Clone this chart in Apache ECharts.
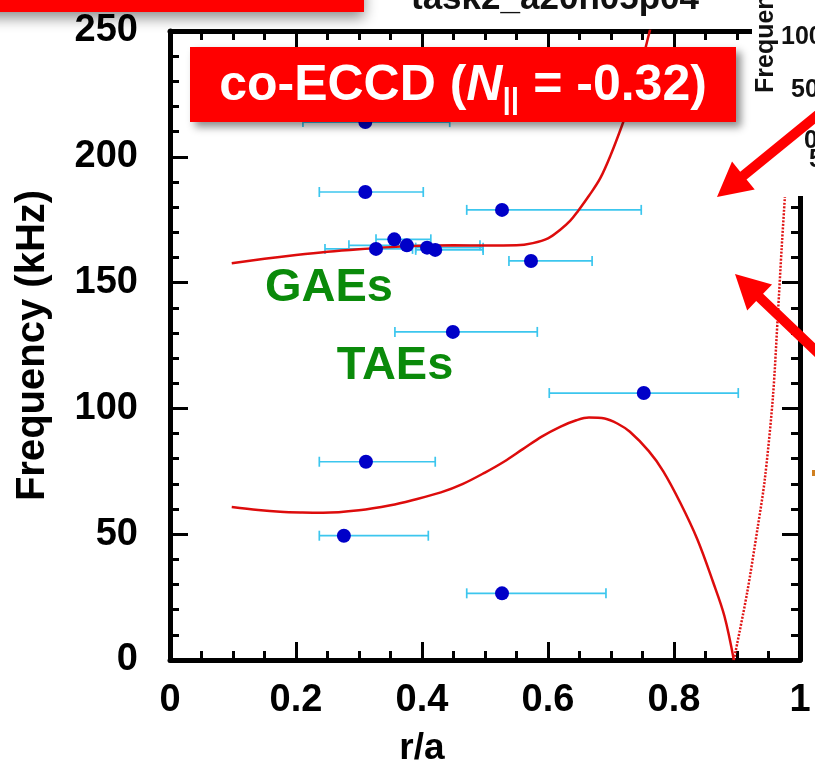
<!DOCTYPE html>
<html><head><meta charset="utf-8">
<script src="https://cdn.jsdelivr.net/npm/echarts@6/dist/echarts.min.js"></script>
<style>html,body{margin:0;padding:0;background:#fff;overflow:hidden}#c{width:815px;height:765px}</style>
</head><body><div id="c"></div>
<script>
// ---- tick labels ----
const xTickLabels = ['0', '0.2', '0.4', '0.6', '0.8', '1'];
const yTickLabels = ['0', '50', '100', '150', '200', '250'];

// ---- upper continuum curve (r/a, kHz) ----
const upperR = [0.098, 0.15, 0.2, 0.25, 0.3, 0.35, 0.4, 0.45, 0.5, 0.55, 0.576, 0.6, 0.619, 0.635, 0.648, 0.665, 0.683, 0.7, 0.719, 0.73, 0.741, 0.75, 0.759, 0.765];
const upperF = [157.7, 159.5, 161.0, 162.3, 163.3, 164.1, 164.6, 164.8, 164.7, 164.8, 165.7, 167.6, 170.9, 174.5, 178.6, 184.5, 191.5, 201.0, 213.5, 221.5, 230.5, 238.5, 247.5, 253.5];

// ---- lower continuum curve, left branch (solid) ----
const lowR = [0.098, 0.14, 0.175, 0.21, 0.243, 0.3, 0.35, 0.386, 0.43, 0.465, 0.5, 0.53, 0.56, 0.59, 0.62, 0.645, 0.665, 0.69, 0.71, 0.73, 0.76, 0.783, 0.81, 0.837, 0.862, 0.88, 0.895];
const lowF = [60.8, 59.6, 58.9, 58.6, 58.5, 59.5, 61.5, 63.6, 66.6, 70.0, 74.5, 78.8, 83.8, 88.8, 92.8, 95.3, 96.4, 96.0, 94.0, 90.7, 83.0, 75.0, 62.5, 48.0, 31.0, 17.5, 0];

// ---- lower continuum curve, right branch (dotted) ----
const rightR = [0.895, 0.916, 0.933, 0.944, 0.957, 0.965, 0.971, 0.976];
const rightF = [0, 26.6, 53, 71.5, 104.5, 137.9, 164.2, 184];

// ---- measured modes: centre r/a, frequency, error bar low / high ----
const ptR  = [0.310, 0.310, 0.527, 0.356, 0.376, 0.327, 0.408, 0.421, 0.573, 0.449, 0.752, 0.311, 0.276, 0.527];
const ptF  = [213.8, 186.0, 178.9, 167.2, 164.8, 163.4, 163.9, 163.0, 158.6, 130.4, 106.1, 78.8, 49.4, 26.5];
const ptLo = [0.211, 0.237, 0.471, 0.327, 0.284, 0.246, 0.390, 0.390, 0.538, 0.357, 0.602, 0.237, 0.237, 0.471];
const ptHi = [0.444, 0.402, 0.748, 0.414, 0.492, 0.385, 0.497, 0.497, 0.670, 0.583, 0.902, 0.421, 0.410, 0.692];

const zip = (a, b) => a.map((v, i) => [v, b[i]]);
const FONT = 'Liberation Sans';

const chart = echarts.init(document.getElementById('c'), null, {renderer: 'canvas'});

function axisCommon(showLabel) {
  return {
    axisLine: {show: true, onZero: false, lineStyle: {color: '#000', width: 5}},
    axisTick: {show: true, inside: true, length: 18, lineStyle: {color: '#000', width: 3}},
    minorTick: {show: true, length: 9, lineStyle: {color: '#000', width: 3}},
    splitLine: {show: false},
    minorSplitLine: {show: false},
    axisLabel: {show: showLabel, color: '#000', fontFamily: FONT, fontWeight: 'bold', fontSize: 38}
  };
}

const xBottom = Object.assign(axisCommon(true), {
  type: 'value', min: 0, max: 1, interval: 0.2, position: 'bottom',
  name: 'r/a', nameLocation: 'middle', nameGap: 70,
  nameTextStyle: {color: '#000', fontFamily: FONT, fontWeight: 'bold', fontSize: 37, padding: [0, 126, 0, 0]}
});
xBottom.minorTick.splitNumber = 4;
xBottom.axisLabel.margin = 22;
xBottom.axisLabel.formatter = v => xTickLabels[Math.round(v / 0.2)];

const xTop = Object.assign(axisCommon(false), {type: 'value', min: 0, max: 1, interval: 0.2, position: 'top'});
xTop.minorTick.splitNumber = 4;

const yLeft = Object.assign(axisCommon(true), {
  type: 'value', min: 0, max: 250, interval: 50, position: 'left',
  name: 'Frequency (kHz)', nameLocation: 'middle', nameGap: 117, nameRotate: 90,
  nameTextStyle: {color: '#000', fontFamily: FONT, fontWeight: 'bold', fontSize: 40}
});
yLeft.minorTick.splitNumber = 5;
yLeft.axisLabel.margin = 32;
yLeft.axisLabel.formatter = v => yTickLabels[Math.round(v / 50)];

const yRight = Object.assign(axisCommon(false), {type: 'value', min: 0, max: 250, interval: 50, position: 'right'});
yRight.minorTick.splitNumber = 5;

function arrow(x0, y0, x1, y1, shaftW, headL, headW) {
  const dx = x1 - x0, dy = y1 - y0, L = Math.hypot(dx, dy);
  const ux = dx / L, uy = dy / L, nx = -uy, ny = ux;
  const bx = x1 - ux * headL, by = y1 - uy * headL;
  return [
    [x0 + nx * shaftW, y0 + ny * shaftW],
    [bx + nx * shaftW, by + ny * shaftW],
    [bx + nx * headW, by + ny * headW],
    [x1, y1],
    [bx - nx * headW, by - ny * headW],
    [bx - nx * shaftW, by - ny * shaftW],
    [x0 - nx * shaftW, y0 - ny * shaftW]
  ];
}

const option = {
  backgroundColor: '#ffffff',
  animation: false,
  grid: {left: 170, right: 15, top: 31, bottom: 105, containLabel: false, outerBoundsMode: 'none'},
  xAxis: [xBottom, xTop],
  yAxis: [yLeft, yRight],
  series: [
    {
      type: 'custom', name: 'errbar', xAxisIndex: 0, yAxisIndex: 0, z: 3,
      data: ptR.map((r, i) => [ptLo[i], ptHi[i], ptF[i]]),
      renderItem: function (params, api) {
        const a = api.coord([api.value(0), api.value(2)]);
        const b = api.coord([api.value(1), api.value(2)]);
        const st = {stroke: '#3cc6ee', lineWidth: 1.7};
        return {type: 'group', children: [
          {type: 'line', shape: {x1: a[0], y1: a[1], x2: b[0], y2: b[1]}, style: st},
          {type: 'line', shape: {x1: a[0], y1: a[1] - 5, x2: a[0], y2: a[1] + 5}, style: st},
          {type: 'line', shape: {x1: b[0], y1: b[1] - 5, x2: b[0], y2: b[1] + 5}, style: st}
        ]};
      }
    },
    {
      type: 'line', name: 'upper', data: zip(upperR, upperF), smooth: 0.35, symbol: 'none', z: 4,
      lineStyle: {color: '#dd0c0c', width: 2.5}
    },
    {
      type: 'line', name: 'lowerLeft', data: zip(lowR, lowF), smooth: 0.35, symbol: 'none', z: 4,
      lineStyle: {color: '#dd0c0c', width: 2.5}
    },
    {
      type: 'line', name: 'lowerRight', data: zip(rightR, rightF), smooth: 0.3, symbol: 'none', z: 4,
      lineStyle: {color: '#e01515', width: 2.5, type: [2, 1.5]}
    },
    {
      type: 'scatter', name: 'modes', data: zip(ptR, ptF), symbol: 'circle', symbolSize: 14, z: 5,
      itemStyle: {color: '#0000c8', opacity: 1}
    }
  ],
  graphic: [
    // covering panel at top-right (another figure pasted over)
    {type: 'rect', z: 100, shape: {x: 752, y: 0, width: 70, height: 196}, style: {fill: '#ffffff'}},
    {type: 'text', z: 101, x: 779, y: 93, rotation: Math.PI / 2,
      style: {text: 'Frequenc', font: 'bold 25px "Liberation Sans"', fill: '#111', align: 'left', verticalAlign: 'bottom'}},
    {type: 'text', z: 101, x: 781, y: 37, style: {text: '100', font: 'bold 25px "Liberation Sans"', fill: '#111', align: 'left', verticalAlign: 'middle'}},
    {type: 'text', z: 101, x: 791, y: 90, style: {text: '50', font: 'bold 25px "Liberation Sans"', fill: '#111', align: 'left', verticalAlign: 'middle'}},
    {type: 'text', z: 101, x: 804, y: 141, style: {text: '0', font: 'bold 25px "Liberation Sans"', fill: '#111', align: 'left', verticalAlign: 'middle'}},
    {type: 'text', z: 101, x: 809, y: 160, style: {text: '5', font: 'bold 25px "Liberation Sans"', fill: '#111', align: 'left', verticalAlign: 'middle'}},
    // top-left red bar of the slide
    {type: 'rect', z: 102, shape: {x: -20, y: -20, width: 384, height: 32},
      style: {fill: '#ff0000', shadowBlur: 14, shadowOffsetY: 6, shadowColor: 'rgba(0,0,0,0.45)'}},
    // figure title (cut at top)
    {type: 'text', z: 101, x: 555, y: 17,
      style: {text: 'task2_a20n05p04', font: 'bold 35px "Liberation Sans"', fill: '#111', align: 'center', verticalAlign: 'bottom'}},
    // red label box
    {type: 'rect', z: 102, shape: {x: 190, y: 47, width: 546, height: 75},
      style: {fill: '#ff0000', shadowBlur: 8, shadowOffsetX: 5, shadowOffsetY: 5, shadowColor: 'rgba(0,0,0,0.45)'}},
    {type: 'text', z: 103, x: 463, y: 86,
      style: {
        text: '{a|co-ECCD (}{n|N}{s|||}{a| = -0.32)}',
        align: 'center', verticalAlign: 'middle',
        rich: {
          a: {font: 'bold 50px "Liberation Sans"', fill: '#fff', color: '#fff', lineHeight: 60},
          n: {font: 'italic bold 50px "Liberation Sans"', fill: '#fff', color: '#fff', lineHeight: 60},
          s: {font: 'bold 30px "Liberation Sans"', fill: '#fff', color: '#fff', lineHeight: 10, verticalAlign: 'bottom'}
        }
      }},
    // mode labels
    {type: 'text', z: 103, x: 329, y: 288,
      style: {text: 'GAEs', font: 'bold 47px "Liberation Sans"', fill: '#0a8a0a', align: 'center', verticalAlign: 'middle'}},
    {type: 'text', z: 103, x: 395, y: 366,
      style: {text: 'TAEs', font: 'bold 47px "Liberation Sans"', fill: '#0a8a0a', align: 'center', verticalAlign: 'middle'}},
    // arrows
    {type: 'polygon', z: 104, shape: {points: arrow(835, 101, 717, 197, 5, 34, 18)}, style: {fill: '#ff0000'}},
    {type: 'polygon', z: 104, shape: {points: arrow(840, 374, 735, 274, 5, 34, 18)}, style: {fill: '#ff0000'}},
    // small orange mark at right edge
    {type: 'rect', z: 104, shape: {x: 812, y: 470, width: 3, height: 6}, style: {fill: '#d08020'}}
  ]
};
chart.setOption(option);
</script>
</body></html>
